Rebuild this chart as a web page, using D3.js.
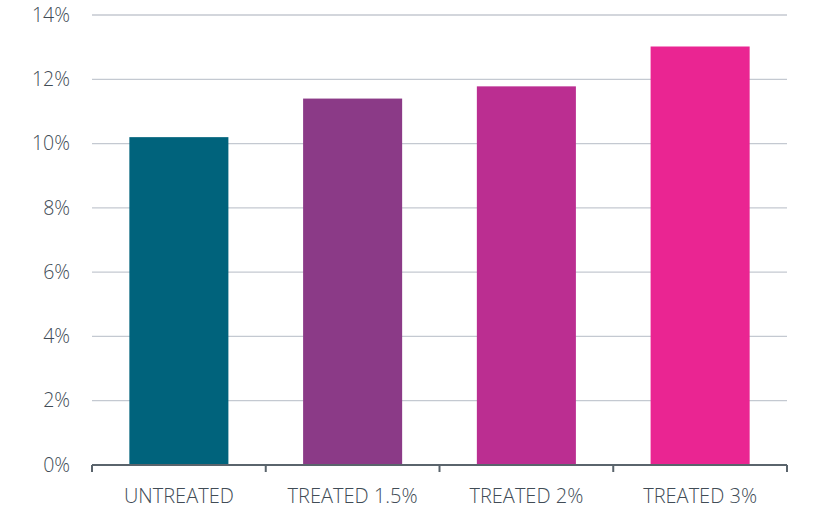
<!DOCTYPE html>
<html>
<head>
<meta charset="utf-8">
<script src="https://cdn.jsdelivr.net/npm/d3@7"></script>
<style>
  body { margin: 0; background: #fff; }
  text { font-family: "Open Sans", sans-serif; font-weight: 300; }
</style>
</head>
<body>
<svg id="chart"></svg>
<script>
const categories = ["UNTREATED", "TREATED 1.5%", "TREATED 2%", "TREATED 3%"]
const values = [10.2, 11.4, 11.78, 13.02]
const colors = ["#00637c", "#8b3a87", "#bb2e91", "#ea2592"]
const yTicks = [0, 2, 4, 6, 8, 10, 12, 14]

const width = 815
const height = 510
const margin = { top: 15, right: 28, bottom: 45, left: 92 }
const graphWidth = width - margin.left - margin.right
const graphHeight = height - margin.top - margin.bottom

const svg = d3.select("#chart")
  .attr("width", width)
  .attr("height", height)

const xScale = d3.scaleBand()
  .domain(categories)
  .range([0, graphWidth])
  .padding(0)

const yScale = d3.scaleLinear()
  .domain([0, 14])
  .range([graphHeight, 0])

const g = svg.append("g")
  .attr("transform", `translate(${margin.left}, ${margin.top})`)

// gridlines
g.append("g")
  .selectAll("line")
  .data(yTicks.filter(d => d > 0))
  .enter()
  .append("line")
  .attr("x1", 0)
  .attr("x2", graphWidth)
  .attr("y1", d => yScale(d))
  .attr("y2", d => yScale(d))
  .attr("stroke", "#c4c9d1")
  .attr("stroke-width", 1.3)

// y labels
const yAxis = g.append("g")
  .call(d3.axisLeft(yScale).tickValues(yTicks).tickSize(0).tickPadding(22).tickFormat(d => d + "%"))
yAxis.select(".domain").remove()
yAxis.selectAll("text")
  .attr("font-size", 19.5)
  .attr("font-family", "'Open Sans', sans-serif")
  .attr("font-weight", 300)
  .attr("fill", "#414c56")

// bars
const barWidth = xScale.bandwidth() * 0.57
g.selectAll("rect")
  .data(values)
  .enter()
  .append("rect")
  .attr("x", (d, i) => xScale(categories[i]) + (xScale.bandwidth() - barWidth) / 2)
  .attr("width", barWidth)
  .attr("y", d => yScale(d))
  .attr("height", d => graphHeight - yScale(d))
  .attr("fill", (d, i) => colors[i])

// x axis with ticks at band boundaries
const boundaries = categories.map(c => xScale(c)).concat([graphWidth])
const xAxis = g.append("g")
  .attr("transform", `translate(0, ${graphHeight})`)
xAxis.append("line")
  .attr("x1", 0)
  .attr("x2", graphWidth)
  .attr("stroke", "#5a646c")
  .attr("stroke-width", 2)
xAxis.selectAll(".tick")
  .data(boundaries)
  .enter()
  .append("line")
  .attr("x1", d => d)
  .attr("x2", d => d)
  .attr("y1", 0)
  .attr("y2", 7)
  .attr("stroke", "#5a646c")
  .attr("stroke-width", 2)
xAxis.selectAll("text")
  .data(categories)
  .enter()
  .append("text")
  .attr("x", d => xScale(d) + xScale.bandwidth() / 2)
  .attr("y", 38)
  .attr("text-anchor", "middle")
  .attr("font-size", 20)
  .attr("fill", "#414c56")
  .text(d => d)
</script>
</body>
</html>
